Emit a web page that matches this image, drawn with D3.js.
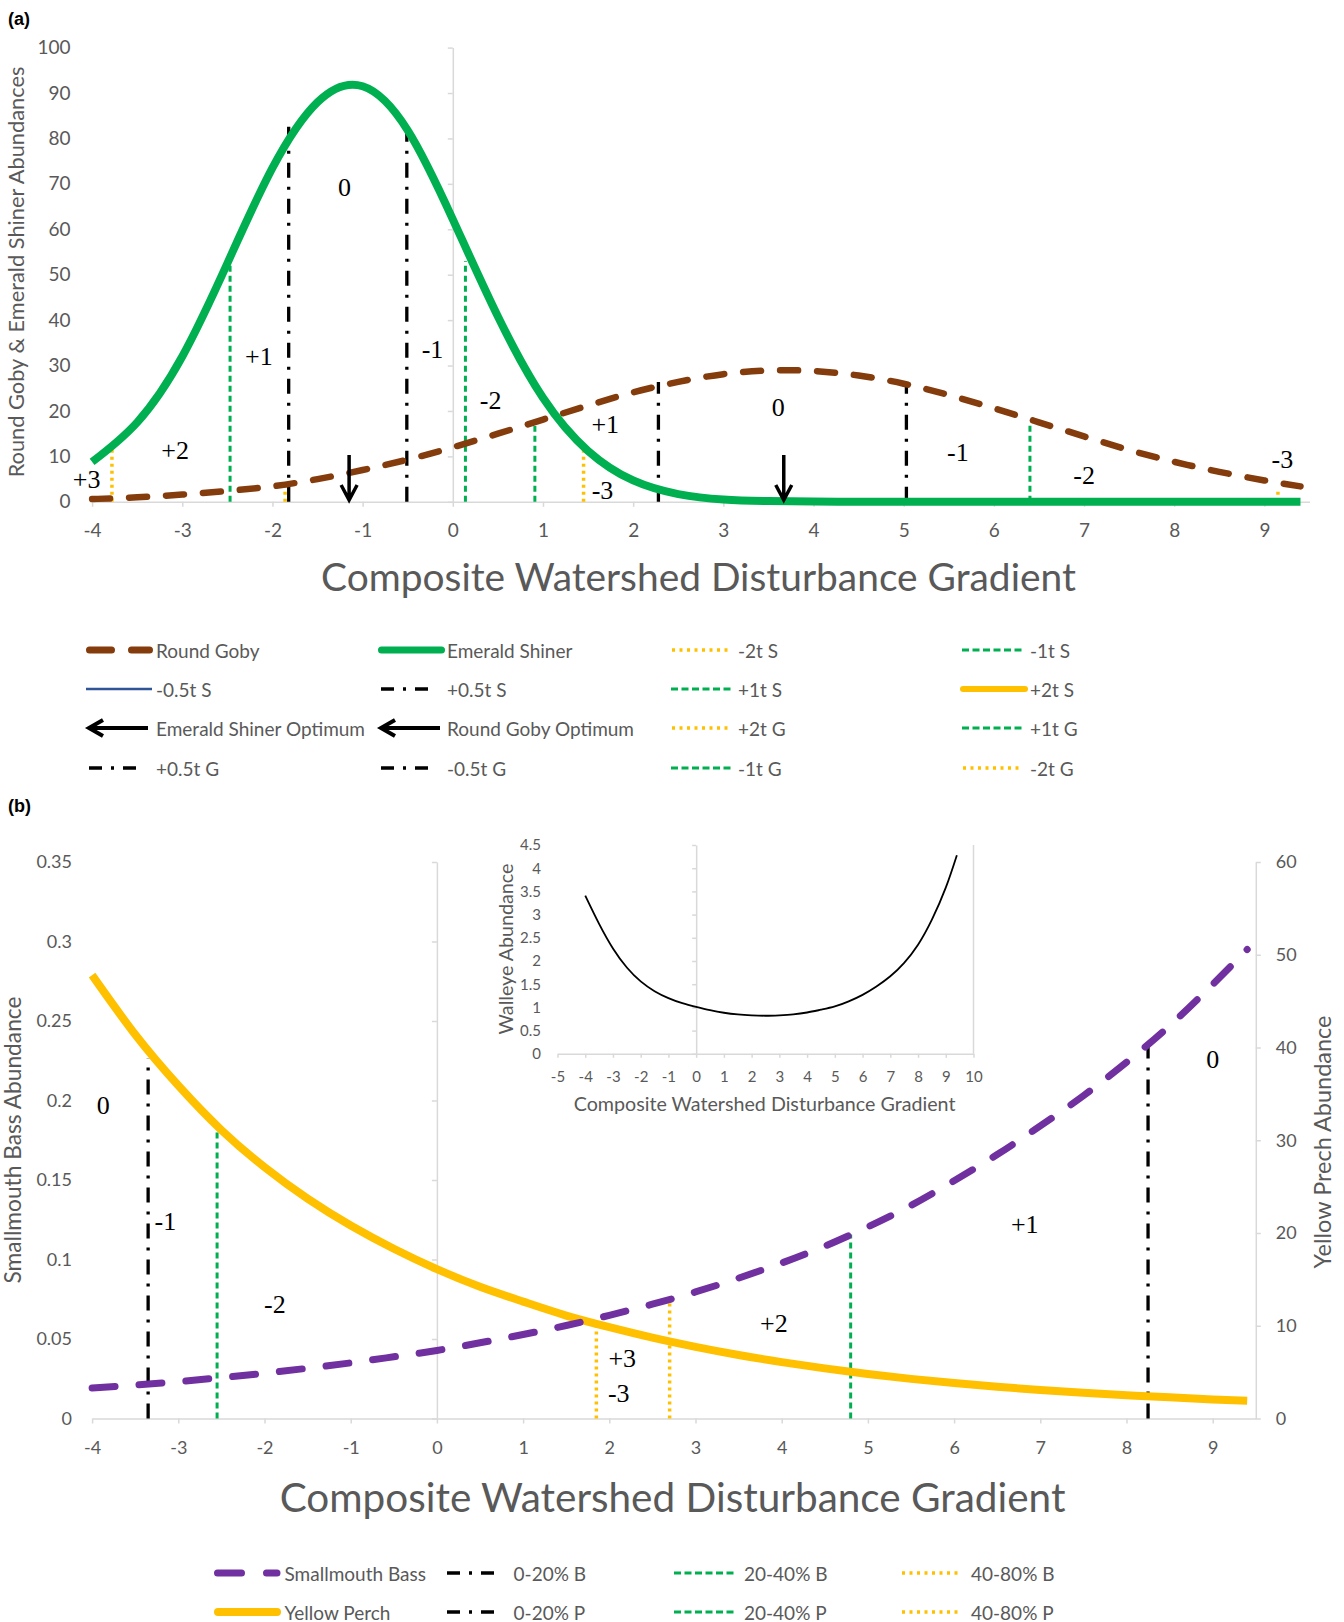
<!DOCTYPE html>
<html><head><meta charset="utf-8">
<script src="https://cdn.jsdelivr.net/npm/d3@7"></script>
<style>body{margin:0;background:#fff}</style>
</head><body>
<script>
// ---------------- DATA ----------------
const gradient = [-4,-3.5,-3,-2.5,-2,-1.5,-1,-0.5,0,0.5,1,1.5,2,2.5,3,3.5,4,4.5,5,5.5,6,6.5,7,7.5,8,8.5,9,9.4];
const roundGoby = [0.6,1.0,1.6,2.4,3.4,5.0,7.0,9.3,12.0,15.0,18.1,21.2,24.1,26.4,28.1,28.9,28.8,27.8,26.0,23.5,20.6,17.5,14.4,11.4,8.8,6.6,4.7,3.4];
const emeraldShiner = [8.8,17.5,32.0,52.5,73.5,88.0,91.5,81.8,62.2,40.8,22.9,11.2,4.7,1.7,0.5,0.15,0.04,0.01,0,0,0,0,0,0,0,0,0,0];
const smallmouthBass = [0.0192,0.0210,0.0232,0.0257,0.0285,0.0316,0.0350,0.0388,0.0428,0.0476,0.0528,0.0585,0.0649,0.0719,0.0796,0.0883,0.0978,0.1084,0.1205,0.1340,0.1495,0.1660,0.1840,0.2030,0.2240,0.2470,0.2730,0.2950];
const yellowPerch = [47.8,41.4,35.9,31.1,27.1,23.7,20.8,18.3,16.1,14.2,12.6,11.1,9.85,8.72,7.73,6.85,6.08,5.40,4.80,4.27,3.82,3.42,3.08,2.78,2.51,2.28,2.06,1.91];
const walleye = [3.41,2.80,2.27,1.86,1.56,1.35,1.20,1.09,1.01,0.94,0.885,0.85,0.83,0.82,0.83,0.85,0.89,0.95,1.02,1.13,1.27,1.45,1.67,1.96,2.35,2.89,3.58,4.28];

const xTicksMain = [-4,-3,-2,-1,0,1,2,3,4,5,6,7,8,9];
const yTicksA = [0,10,20,30,40,50,60,70,80,90,100];
const yTicksBLeft = [0,0.05,0.1,0.15,0.2,0.25,0.3,0.35];
const yTicksBRight = [0,10,20,30,40,50,60];
const xTicksInset = [-5,-4,-3,-2,-1,0,1,2,3,4,5,6,7,8,9,10];
const yTicksInset = [0,0.5,1,1.5,2,2.5,3,3.5,4,4.5];

// tolerance thresholds, panel (a)
const threshAX = [-3.78,-2.47,-1.86,-1.82,-0.51,0.14,0.91,1.45,2.28,5.03,6.40,9.15];
const threshATop = [12.3,53,3.8,83.3,83.3,53,16.7,12.3,26.4,26.1,17.3,3];
const threshAType = ["dot","dash","dot","dashdot","dashdot","dash","dash","dot","dashdot","dashdot","dash","dot"];
const optimumNames = ["Emerald Shiner Optimum","Round Goby Optimum"];
const optimumX = [-1.15,3.67];
const zoneALabels = ["0","+1","-1","+2","+3","-2","+1","-3","0","-1","-2","-3"];
const zoneAX = [-1.20,-2.15,-0.225,-3.08,-4.06,0.42,1.69,1.66,3.61,5.6,7.0,9.2];
const zoneAY = [69.2,32.1,33.5,11.2,5.0,22.3,17.1,2.5,20.7,10.9,5.9,9.3];

// thresholds, panel (b)
const threshBX = [-3.35,-2.55,1.85,2.70,4.80,8.25];
const threshBTop = [0.2265,0.1806,0.060,0.0725,0.1157,0.238];
const threshBType = ["dashdot","dash","dot","dot","dash","dashdot"];
const zoneBLabels = ["0","-1","-2","+3","-3","+2","+1","0"];
const zoneBX = [-3.87,-3.15,-1.88,2.15,2.11,3.91,6.82,9.0];
const zoneBY = [0.197,0.124,0.072,0.038,0.0156,0.0598,0.122,0.2256];

const legendALabels = ["Round Goby","Emerald Shiner","-2t S","-1t S","-0.5t S","+0.5t S","+1t S","+2t S","Emerald Shiner Optimum","Round Goby Optimum","+2t G","+1t G","+0.5t G","-0.5t G","-1t G","-2t G"];
const legendATypes = ["goby","shiner","dot","dash","blue","dashdot","dash","orangeSolid","arrow","arrow","dot","dash","dashdot","dashdot","dash","dot"];
const legendBLabels = ["Smallmouth Bass","0-20% B","20-40% B","40-80% B","Yellow Perch","0-20% P","20-40% P","40-80% P"];
const legendBTypes = ["bass","dashdot","dash","dot","perch","dashdot","dash","dot"];

// ---------------- STYLE ----------------
const FONT = "Lato, 'Open Sans', sans-serif";
const SERIF = "'Liberation Serif', 'Times New Roman', serif";
const GRAY = "#595959", AXIS = "#d9d9d9";
const C = {brown:"#843c0c", green:"#00b050", orange:"#ffc000", purple:"#7030a0", blue:"#2f5597"};
const CURVE = d3.curveNatural;

const svg = d3.select("body").append("svg").attr("width",1344).attr("height",1622)
  .style("background","#fff");

function styleAxis(g, fs){
  g.attr("font-family",FONT).attr("font-size",fs);
  g.selectAll(".domain").attr("stroke",AXIS).attr("stroke-width",1.5);
  g.selectAll(".tick line").attr("stroke",AXIS).attr("stroke-width",1.5);
  g.selectAll("text").attr("fill",GRAY);
}
function fitText(sel, w){
  const l = sel.node().getComputedTextLength();
  const fs = parseFloat(sel.attr("font-size"));
  sel.attr("font-size", fs*w/l);
}
function lineStyle(sel, type){
  if(type==="dashdot") sel.attr("stroke","#000").attr("stroke-width",3.3).attr("stroke-dasharray","15,9,3,9");
  else if(type==="dash") sel.attr("stroke",C.green).attr("stroke-width",3).attr("stroke-dasharray","6,4");
  else if(type==="dot") sel.attr("stroke",C.orange).attr("stroke-width",3.5).attr("stroke-dasharray","3,4");
  return sel;
}
function title(x,y,text,w,fs,rot){
  const t = svg.append("text").attr("font-family",FONT).attr("font-size",fs).attr("fill",GRAY)
    .attr("text-anchor","middle").attr("dominant-baseline","central").text(text);
  if(rot) t.attr("transform",`translate(${x},${y}) rotate(-90)`); else t.attr("x",x).attr("y",y);
  fitText(t,w);
  return t;
}

// ================= PANEL (a) =================
const xA = d3.scaleLinear([-4,9.5],[92.1,1309.5]);
const yA = d3.scaleLinear([0,100],[501.8,47.6]);

svg.append("text").attr("x",8).attr("y",25).attr("font-family","'Liberation Sans', Arial, sans-serif")
  .attr("font-weight","bold").attr("font-size",18).text("(a)");

svg.append("g").attr("transform",`translate(${xA(0)},0)`)
  .call(d3.axisLeft(yA).tickValues(yTicksA).tickSize(5).tickSizeOuter(0).tickFormat(""))
  .call(g=>styleAxis(g,19));
svg.append("g").attr("transform",`translate(70.5,0)`)
  .call(d3.axisLeft(yA).tickValues(yTicksA).tickSize(0).tickPadding(0).tickFormat(String))
  .call(g=>g.select(".domain").remove()).call(g=>styleAxis(g,19));
svg.append("g").attr("transform",`translate(0,${yA(0)})`)
  .call(d3.axisBottom(xA).tickValues(xTicksMain).tickSize(5).tickSizeOuter(0).tickPadding(17).tickFormat(String))
  .call(g=>styleAxis(g,19));

// thresholds
threshAX.forEach((x,i)=>{
  lineStyle(svg.append("line").attr("x1",xA(x)).attr("x2",xA(x)).attr("y1",yA(0)).attr("y2",yA(threshATop[i])), threshAType[i]);
});

const lineA = d3.line().x(d=>xA(d[0])).y(d=>yA(Math.max(0,d[1]))).curve(CURVE);
svg.append("path").datum(d3.zip(gradient,roundGoby)).attr("d",lineA).attr("fill","none")
  .attr("stroke",C.brown).attr("stroke-width",6.5).attr("stroke-linecap","round").attr("stroke-dasharray","18,19");
svg.append("path").datum(d3.zip(gradient,emeraldShiner)).attr("d",lineA).attr("fill","none")
  .attr("stroke",C.green).attr("stroke-width",8);

// optimum arrows
optimumX.forEach(x=>{
  const px = xA(x), top = yA(10.3), tip = yA(0.4);
  svg.append("path").attr("d",`M${px},${top}L${px},${tip}M${px-8},${tip-15}L${px},${tip}L${px+8},${tip-15}`)
    .attr("fill","none").attr("stroke","#000").attr("stroke-width",3.5);
});

zoneALabels.forEach((t,i)=>{
  svg.append("text").attr("x",xA(zoneAX[i])).attr("y",yA(zoneAY[i])).attr("font-family",SERIF)
    .attr("font-size",26).attr("text-anchor","middle").attr("dominant-baseline","central").text(t);
});

title(698.5,576,"Composite Watershed Disturbance Gradient",755,36);
title(15.5,272,"Round Goby & Emerald Shiner Abundances",411,20,true);

// legend symbols
function drawSymbol(type,x0,y){
  const g = svg.append("g");
  const ln = (a,b)=>g.append("line").attr("x1",x0+a).attr("x2",x0+b).attr("y1",y).attr("y2",y).attr("fill","none");
  if(type==="goby") ln(3.5,63.5).attr("stroke",C.brown).attr("stroke-width",7).attr("stroke-linecap","round").attr("stroke-dasharray","22,20");
  else if(type==="bass") ln(3.5,63).attr("stroke",C.purple).attr("stroke-width",7).attr("stroke-linecap","round").attr("stroke-dasharray","24,25");
  else if(type==="shiner") ln(3.5,63.5).attr("stroke",C.green).attr("stroke-width",7).attr("stroke-linecap","round");
  else if(type==="perch") ln(4,63).attr("stroke",C.orange).attr("stroke-width",8).attr("stroke-linecap","round");
  else if(type==="orangeSolid") ln(1,63).attr("stroke",C.orange).attr("stroke-width",6).attr("stroke-linecap","round");
  else if(type==="blue") ln(0,66).attr("stroke",C.blue).attr("stroke-width",2.5);
  else if(type==="dashdot") lineStyle(ln(3,50),"dashdot").attr("stroke-dasharray","13,9,3,9");
  else if(type==="dash") lineStyle(ln(0,62),"dash").attr("stroke-dasharray","7,3.5");
  else if(type==="dot") lineStyle(ln(1,57),"dot").attr("stroke-dasharray","3,4.5");
  else if(type==="arrow") g.append("path").attr("d",`M${x0+62},${y}L${x0+3},${y}M${x0+17},${y-8}L${x0+3},${y}L${x0+17},${y+8}`)
      .attr("fill","none").attr("stroke","#000").attr("stroke-width",4);
}
const legASym = [86,378,671,962], legAText = [156,447,738,1030], legARow = [650,689,728,768];
legendALabels.forEach((t,i)=>{
  const c = i%4, r = Math.floor(i/4);
  drawSymbol(legendATypes[i], legASym[c], legARow[r]);
  svg.append("text").attr("x",legAText[c]).attr("y",legARow[r]).attr("font-family",FONT).attr("font-size",19)
    .attr("fill",GRAY).attr("dominant-baseline","central").text(t);
});

// ================= PANEL (b) =================
const xB = d3.scaleLinear([-4,9.5],[92.1,1255.8]);
const yBL = d3.scaleLinear([0,0.35],[1418.5,862]);
const yBR = d3.scaleLinear([0,60],[1418.5,862]);

svg.append("text").attr("x",8).attr("y",812).attr("font-family","'Liberation Sans', Arial, sans-serif")
  .attr("font-weight","bold").attr("font-size",18).text("(b)");

svg.append("g").attr("transform",`translate(${xB(0)},0)`)
  .call(d3.axisLeft(yBL).tickValues(yTicksBLeft).tickSize(5).tickSizeOuter(0).tickFormat(""))
  .call(g=>styleAxis(g,18));
svg.append("g").attr("transform",`translate(72,0)`)
  .call(d3.axisLeft(yBL).tickValues(yTicksBLeft).tickSize(0).tickPadding(0).tickFormat(String))
  .call(g=>g.select(".domain").remove()).call(g=>styleAxis(g,18));
svg.append("g").attr("transform",`translate(${xB(9.5)},0)`)
  .call(d3.axisRight(yBR).tickValues(yTicksBRight).tickSize(5).tickSizeOuter(0).tickPadding(15).tickFormat(String))
  .call(g=>styleAxis(g,18));
svg.append("g").attr("transform",`translate(0,${yBL(0)})`)
  .call(d3.axisBottom(xB).tickValues(xTicksMain).tickSize(5).tickSizeOuter(0).tickPadding(18).tickFormat(String))
  .call(g=>styleAxis(g,18));

threshBX.forEach((x,i)=>{
  lineStyle(svg.append("line").attr("x1",xB(x)).attr("x2",xB(x)).attr("y1",yBL(0)).attr("y2",yBL(threshBTop[i])), threshBType[i]);
});

svg.append("path").datum(d3.zip(gradient,yellowPerch))
  .attr("d",d3.line().x(d=>xB(d[0])).y(d=>yBR(d[1])).curve(CURVE))
  .attr("fill","none").attr("stroke",C.orange).attr("stroke-width",8);
svg.append("path").datum(d3.zip(gradient,smallmouthBass))
  .attr("d",d3.line().x(d=>xB(d[0])).y(d=>yBL(d[1])).curve(CURVE))
  .attr("fill","none").attr("stroke",C.purple).attr("stroke-width",7).attr("stroke-linecap","round").attr("stroke-dasharray","23,24");

zoneBLabels.forEach((t,i)=>{
  svg.append("text").attr("x",xB(zoneBX[i])).attr("y",yBL(zoneBY[i])).attr("font-family",SERIF)
    .attr("font-size",26).attr("text-anchor","middle").attr("dominant-baseline","central").text(t);
});

title(672.6,1496,"Composite Watershed Disturbance Gradient",786,36);
title(12.4,1140,"Smallmouth Bass Abundance",287,20,true);
title(1322,1142,"Yellow Prech Abundance",253,20,true);

// ---- inset (walleye) ----
const xI = d3.scaleLinear([-5,10],[557.5,973.5]);
const yI = d3.scaleLinear([0,4.5],[1053.8,845]);
svg.append("g").attr("transform",`translate(${xI(0)},0)`)
  .call(d3.axisLeft(yI).tickValues(yTicksInset).tickSize(4).tickSizeOuter(0).tickFormat(""))
  .call(g=>styleAxis(g,15));
svg.append("g").attr("transform",`translate(541,0)`)
  .call(d3.axisLeft(yI).tickValues(yTicksInset).tickSize(0).tickPadding(0).tickFormat(String))
  .call(g=>g.select(".domain").remove()).call(g=>styleAxis(g,15));
svg.append("g").attr("transform",`translate(0,${yI(0)})`)
  .call(d3.axisBottom(xI).tickValues(xTicksInset).tickSize(4).tickSizeOuter(0).tickPadding(14).tickFormat(String))
  .call(g=>styleAxis(g,15));
svg.append("line").attr("x1",xI(10)).attr("x2",xI(10)).attr("y1",yI(4.5)).attr("y2",yI(0))
  .attr("stroke",AXIS).attr("stroke-width",1.5);
svg.append("path").datum(d3.zip(gradient,walleye))
  .attr("d",d3.line().x(d=>xI(d[0])).y(d=>yI(d[1])).curve(CURVE))
  .attr("fill","none").attr("stroke","#000").attr("stroke-width",1.8);
title(764.6,1103.6,"Composite Watershed Disturbance Gradient",382,17);
title(505,949,"Walleye Abundance",171,17,true);

// legend (b)
const legBSym = [214,444,674,901], legBText = [284.5,513.6,744,971], legBRow = [1573,1612];
legendBLabels.forEach((t,i)=>{
  const c = i%4, r = Math.floor(i/4);
  drawSymbol(legendBTypes[i], legBSym[c], legBRow[r]);
  svg.append("text").attr("x",legBText[c]).attr("y",legBRow[r]).attr("font-family",FONT).attr("font-size",19)
    .attr("fill",GRAY).attr("dominant-baseline","central").text(t);
});
</script>
</body></html>
